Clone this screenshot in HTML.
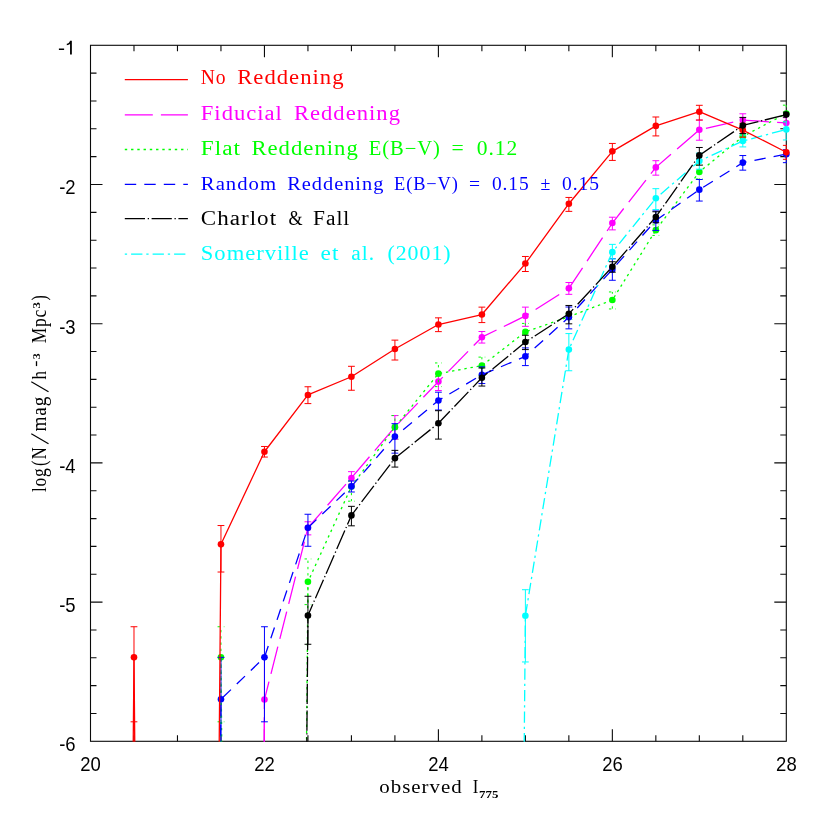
<!DOCTYPE html>
<html><head><meta charset="utf-8"><title>plot</title>
<style>html,body{margin:0;padding:0;background:#fff;}svg{display:block;will-change:transform;}text{font-family:"Liberation Serif",serif;}.w{letter-spacing:0.9px;}.tk{font-family:"Liberation Sans",sans-serif;font-size:20px;fill:#000;}</style></head><body>
<svg width="830" height="830" viewBox="0 0 830 830">
<rect width="830" height="830" fill="#fff"/>
<defs><clipPath id="c"><rect x="90.0" y="44.8" width="696.8" height="697.0"/></clipPath></defs>
<g stroke="#0a0a0a" stroke-width="1.1" fill="none" stroke-linecap="butt">
<rect x="90.50" y="45.30" width="695.80" height="696.00"/>
<path d="M133.99 741.30 V735.30 M133.99 45.30 V51.30 M177.47 741.30 V735.30 M177.47 45.30 V51.30 M220.96 741.30 V735.30 M220.96 45.30 V51.30 M264.45 741.30 V729.30 M264.45 45.30 V57.30 M307.94 741.30 V735.30 M307.94 45.30 V51.30 M351.42 741.30 V735.30 M351.42 45.30 V51.30 M394.91 741.30 V735.30 M394.91 45.30 V51.30 M438.40 741.30 V729.30 M438.40 45.30 V57.30 M481.89 741.30 V735.30 M481.89 45.30 V51.30 M525.38 741.30 V735.30 M525.38 45.30 V51.30 M568.86 741.30 V735.30 M568.86 45.30 V51.30 M612.35 741.30 V729.30 M612.35 45.30 V57.30 M655.84 741.30 V735.30 M655.84 45.30 V51.30 M699.32 741.30 V735.30 M699.32 45.30 V51.30 M742.81 741.30 V735.30 M742.81 45.30 V51.30 M90.50 73.14 H96.50 M786.30 73.14 H780.30 M90.50 100.98 H96.50 M786.30 100.98 H780.30 M90.50 128.82 H96.50 M786.30 128.82 H780.30 M90.50 156.66 H96.50 M786.30 156.66 H780.30 M90.50 184.50 H102.50 M786.30 184.50 H774.30 M90.50 212.34 H96.50 M786.30 212.34 H780.30 M90.50 240.18 H96.50 M786.30 240.18 H780.30 M90.50 268.02 H96.50 M786.30 268.02 H780.30 M90.50 295.86 H96.50 M786.30 295.86 H780.30 M90.50 323.70 H102.50 M786.30 323.70 H774.30 M90.50 351.54 H96.50 M786.30 351.54 H780.30 M90.50 379.38 H96.50 M786.30 379.38 H780.30 M90.50 407.22 H96.50 M786.30 407.22 H780.30 M90.50 435.06 H96.50 M786.30 435.06 H780.30 M90.50 462.90 H102.50 M786.30 462.90 H774.30 M90.50 490.74 H96.50 M786.30 490.74 H780.30 M90.50 518.58 H96.50 M786.30 518.58 H780.30 M90.50 546.42 H96.50 M786.30 546.42 H780.30 M90.50 574.26 H96.50 M786.30 574.26 H780.30 M90.50 602.10 H102.50 M786.30 602.10 H774.30 M90.50 629.94 H96.50 M786.30 629.94 H780.30 M90.50 657.78 H96.50 M786.30 657.78 H780.30 M90.50 685.62 H96.50 M786.30 685.62 H780.30 M90.50 713.46 H96.50 M786.30 713.46 H780.30"/>
</g>
<g fill="none" stroke-linecap="butt" stroke-linejoin="round">
<g clip-path="url(#c)">
<path d="M220.96 5474.10 L264.45 699.54 L307.94 527.77 L351.42 477.93 L394.91 426.99 L438.40 381.61 L481.89 337.20 L525.38 315.90 L568.86 288.34 L612.35 223.06 L655.84 167.38 L699.32 129.79 L742.81 120.05 L786.30 122.97" stroke="#ff00ff" stroke-width="1.30" stroke-dasharray="28 8.1"/>
<path d="M264.45 699.54 V657.36 M264.45 699.54 V880.50 M261.05 657.36 H267.85 M261.05 880.50 H267.85" stroke="#ff00ff" stroke-width="1.00"/>
<path d="M307.94 527.77 V521.78 M307.94 527.77 V534.87 M304.54 521.78 H311.34 M304.54 534.87 H311.34" stroke="#ff00ff" stroke-width="1.00"/>
<path d="M351.42 477.93 V471.67 M351.42 477.93 V484.20 M348.02 471.67 H354.82 M348.02 484.20 H354.82" stroke="#ff00ff" stroke-width="1.00"/>
<path d="M394.91 426.99 V415.57 M394.91 426.99 V439.24 M391.51 415.57 H398.31 M391.51 439.24 H398.31" stroke="#ff00ff" stroke-width="1.00"/>
<path d="M438.40 381.61 V373.81 M438.40 381.61 V390.52 M435.00 373.81 H441.80 M435.00 390.52 H441.80" stroke="#ff00ff" stroke-width="1.00"/>
<path d="M481.89 337.20 V331.50 M481.89 337.20 V343.05 M478.49 331.50 H485.29 M478.49 343.05 H485.29" stroke="#ff00ff" stroke-width="1.00"/>
<path d="M525.38 315.90 V307.14 M525.38 315.90 V326.34 M521.98 307.14 H528.77 M521.98 326.34 H528.77" stroke="#ff00ff" stroke-width="1.00"/>
<path d="M568.86 288.34 V282.50 M568.86 288.34 V294.33 M565.46 282.50 H572.26 M565.46 294.33 H572.26" stroke="#ff00ff" stroke-width="1.00"/>
<path d="M612.35 223.06 V217.21 M612.35 223.06 V229.88 M608.95 217.21 H615.75 M608.95 229.88 H615.75" stroke="#ff00ff" stroke-width="1.00"/>
<path d="M655.84 167.38 V160.70 M655.84 167.38 V175.17 M652.44 160.70 H659.24 M652.44 175.17 H659.24" stroke="#ff00ff" stroke-width="1.00"/>
<path d="M699.32 129.79 V120.05 M699.32 129.79 V140.23 M695.92 120.05 H702.72 M695.92 140.23 H702.72" stroke="#ff00ff" stroke-width="1.00"/>
<path d="M742.81 120.05 V113.79 M742.81 120.05 V126.73 M739.41 113.79 H746.21 M739.41 126.73 H746.21" stroke="#ff00ff" stroke-width="1.00"/>
<path d="M786.30 122.97 V117.68 M786.30 122.97 V128.82 M782.90 117.68 H789.70 M782.90 128.82 H789.70" stroke="#ff00ff" stroke-width="1.00"/>
</g>
<circle cx="264.45" cy="699.54" r="3.30" fill="#ff00ff" stroke="none"/>
<circle cx="307.94" cy="527.77" r="3.30" fill="#ff00ff" stroke="none"/>
<circle cx="351.42" cy="477.93" r="3.30" fill="#ff00ff" stroke="none"/>
<circle cx="394.91" cy="426.99" r="3.30" fill="#ff00ff" stroke="none"/>
<circle cx="438.40" cy="381.61" r="3.30" fill="#ff00ff" stroke="none"/>
<circle cx="481.89" cy="337.20" r="3.30" fill="#ff00ff" stroke="none"/>
<circle cx="525.38" cy="315.90" r="3.30" fill="#ff00ff" stroke="none"/>
<circle cx="568.86" cy="288.34" r="3.30" fill="#ff00ff" stroke="none"/>
<circle cx="612.35" cy="223.06" r="3.30" fill="#ff00ff" stroke="none"/>
<circle cx="655.84" cy="167.38" r="3.30" fill="#ff00ff" stroke="none"/>
<circle cx="699.32" cy="129.79" r="3.30" fill="#ff00ff" stroke="none"/>
<circle cx="742.81" cy="120.05" r="3.30" fill="#ff00ff" stroke="none"/>
<circle cx="786.30" cy="122.97" r="3.30" fill="#ff00ff" stroke="none"/>
<g clip-path="url(#c)">
<path d="M177.47 5474.10 L220.96 657.36 L264.45 5474.10 L307.94 581.78 L351.42 486.56 L394.91 427.13 L438.40 373.67 L481.89 365.60 L525.38 331.91 L568.86 316.74 L612.35 300.04 L655.84 230.16 L699.32 171.97 L742.81 136.48 L786.30 113.51" stroke="#00ff00" stroke-width="1.30" stroke-dasharray="2.4 3.85"/>
<path d="M220.96 657.36 V626.74 M220.96 657.36 V721.81 M217.56 626.74 H224.36 M217.56 721.81 H224.36" stroke="#00ff00" stroke-width="1.00" stroke-dasharray="2.4 3.85"/>
<path d="M307.94 581.78 V558.95 M307.94 581.78 V604.61 M304.54 558.95 H311.34 M304.54 604.61 H311.34" stroke="#00ff00" stroke-width="1.00" stroke-dasharray="2.4 3.85"/>
<path d="M351.42 486.56 V481.00 M351.42 486.56 V501.18 M348.02 481.00 H354.82 M348.02 501.18 H354.82" stroke="#00ff00" stroke-width="1.00" stroke-dasharray="2.4 3.85"/>
<path d="M394.91 427.13 V415.57 M394.91 427.13 V439.24 M391.51 415.57 H398.31 M391.51 439.24 H398.31" stroke="#00ff00" stroke-width="1.00" stroke-dasharray="2.4 3.85"/>
<path d="M438.40 373.67 V362.95 M438.40 373.67 V386.62 M435.00 362.95 H441.80 M435.00 386.62 H441.80" stroke="#00ff00" stroke-width="1.00" stroke-dasharray="2.4 3.85"/>
<path d="M481.89 365.60 V357.11 M481.89 365.60 V375.20 M478.49 357.11 H485.29 M478.49 375.20 H485.29" stroke="#00ff00" stroke-width="1.00" stroke-dasharray="2.4 3.85"/>
<path d="M525.38 331.91 V323.42 M525.38 331.91 V341.80 M521.98 323.42 H528.77 M521.98 341.80 H528.77" stroke="#00ff00" stroke-width="1.00" stroke-dasharray="2.4 3.85"/>
<path d="M568.86 316.74 V313.96 M568.86 316.74 V319.52 M565.46 313.96 H572.26 M565.46 319.52 H572.26" stroke="#00ff00" stroke-width="1.00" stroke-dasharray="2.4 3.85"/>
<path d="M612.35 300.04 V291.96 M612.35 300.04 V308.94 M608.95 291.96 H615.75 M608.95 308.94 H615.75" stroke="#00ff00" stroke-width="1.00" stroke-dasharray="2.4 3.85"/>
<path d="M655.84 230.16 V224.87 M655.84 230.16 V235.45 M652.44 224.87 H659.24 M652.44 235.45 H659.24" stroke="#00ff00" stroke-width="1.00" stroke-dasharray="2.4 3.85"/>
<path d="M699.32 171.97 V165.01 M699.32 171.97 V178.93 M695.92 165.01 H702.72 M695.92 178.93 H702.72" stroke="#00ff00" stroke-width="1.00" stroke-dasharray="2.4 3.85"/>
<path d="M742.81 136.48 V130.91 M742.81 136.48 V142.04 M739.41 130.91 H746.21 M739.41 142.04 H746.21" stroke="#00ff00" stroke-width="1.00" stroke-dasharray="2.4 3.85"/>
<path d="M786.30 113.51 V105.16 M786.30 113.51 V121.86 M782.90 105.16 H789.70 M782.90 121.86 H789.70" stroke="#00ff00" stroke-width="1.00" stroke-dasharray="2.4 3.85"/>
</g>
<circle cx="220.96" cy="657.36" r="3.30" fill="#00ff00" stroke="none"/>
<circle cx="307.94" cy="581.78" r="3.30" fill="#00ff00" stroke="none"/>
<circle cx="351.42" cy="486.56" r="3.30" fill="#00ff00" stroke="none"/>
<circle cx="394.91" cy="427.13" r="3.30" fill="#00ff00" stroke="none"/>
<circle cx="438.40" cy="373.67" r="3.30" fill="#00ff00" stroke="none"/>
<circle cx="481.89" cy="365.60" r="3.30" fill="#00ff00" stroke="none"/>
<circle cx="525.38" cy="331.91" r="3.30" fill="#00ff00" stroke="none"/>
<circle cx="568.86" cy="316.74" r="3.30" fill="#00ff00" stroke="none"/>
<circle cx="612.35" cy="300.04" r="3.30" fill="#00ff00" stroke="none"/>
<circle cx="655.84" cy="230.16" r="3.30" fill="#00ff00" stroke="none"/>
<circle cx="699.32" cy="171.97" r="3.30" fill="#00ff00" stroke="none"/>
<circle cx="742.81" cy="136.48" r="3.30" fill="#00ff00" stroke="none"/>
<circle cx="786.30" cy="113.51" r="3.30" fill="#00ff00" stroke="none"/>
<g clip-path="url(#c)">
<path d="M177.47 5474.10 L220.96 699.26 L264.45 657.36 L307.94 527.77 L351.42 486.42 L394.91 436.59 L438.40 400.54 L481.89 374.79 L525.38 356.41 L568.86 317.16 L612.35 269.41 L655.84 220.41 L699.32 189.65 L742.81 162.65 L786.30 154.15" stroke="#0000ff" stroke-width="1.30" stroke-dasharray="11.4 8.1"/>
<path d="M220.96 699.26 V657.36 M220.96 699.26 V880.50 M217.56 657.36 H224.36 M217.56 880.50 H224.36" stroke="#0000ff" stroke-width="1.00"/>
<path d="M264.45 657.36 V626.74 M264.45 657.36 V721.81 M261.05 626.74 H267.85 M261.05 721.81 H267.85" stroke="#0000ff" stroke-width="1.00"/>
<path d="M307.94 527.77 V514.26 M307.94 527.77 V546.28 M304.54 514.26 H311.34 M304.54 546.28 H311.34" stroke="#0000ff" stroke-width="1.00"/>
<path d="M351.42 486.42 V481.00 M351.42 486.42 V491.99 M348.02 481.00 H354.82 M348.02 491.99 H354.82" stroke="#0000ff" stroke-width="1.00"/>
<path d="M394.91 436.59 V423.65 M394.91 436.59 V453.16 M391.51 423.65 H398.31 M391.51 453.16 H398.31" stroke="#0000ff" stroke-width="1.00"/>
<path d="M438.40 400.54 V392.19 M438.40 400.54 V410.00 M435.00 392.19 H441.80 M435.00 410.00 H441.80" stroke="#0000ff" stroke-width="1.00"/>
<path d="M481.89 374.79 V366.85 M481.89 374.79 V383.56 M478.49 366.85 H485.29 M478.49 383.56 H485.29" stroke="#0000ff" stroke-width="1.00"/>
<path d="M525.38 356.41 V347.92 M525.38 356.41 V365.60 M521.98 347.92 H528.77 M521.98 365.60 H528.77" stroke="#0000ff" stroke-width="1.00"/>
<path d="M568.86 317.16 V307.00 M568.86 317.16 V328.85 M565.46 307.00 H572.26 M565.46 328.85 H572.26" stroke="#0000ff" stroke-width="1.00"/>
<path d="M612.35 269.41 V258.69 M612.35 269.41 V280.27 M608.95 258.69 H615.75 M608.95 280.27 H615.75" stroke="#0000ff" stroke-width="1.00"/>
<path d="M655.84 220.41 V210.95 M655.84 220.41 V230.44 M652.44 210.95 H659.24 M652.44 230.44 H659.24" stroke="#0000ff" stroke-width="1.00"/>
<path d="M699.32 189.65 V179.49 M699.32 189.65 V201.06 M695.92 179.49 H702.72 M695.92 201.06 H702.72" stroke="#0000ff" stroke-width="1.00"/>
<path d="M742.81 162.65 V155.55 M742.81 162.65 V170.16 M739.41 155.55 H746.21 M739.41 170.16 H746.21" stroke="#0000ff" stroke-width="1.00"/>
<path d="M786.30 154.15 V149.70 M786.30 154.15 V162.65 M782.90 149.70 H789.70 M782.90 162.65 H789.70" stroke="#0000ff" stroke-width="1.00"/>
</g>
<circle cx="220.96" cy="699.26" r="3.30" fill="#0000ff" stroke="none"/>
<circle cx="264.45" cy="657.36" r="3.30" fill="#0000ff" stroke="none"/>
<circle cx="307.94" cy="527.77" r="3.30" fill="#0000ff" stroke="none"/>
<circle cx="351.42" cy="486.42" r="3.30" fill="#0000ff" stroke="none"/>
<circle cx="394.91" cy="436.59" r="3.30" fill="#0000ff" stroke="none"/>
<circle cx="438.40" cy="400.54" r="3.30" fill="#0000ff" stroke="none"/>
<circle cx="481.89" cy="374.79" r="3.30" fill="#0000ff" stroke="none"/>
<circle cx="525.38" cy="356.41" r="3.30" fill="#0000ff" stroke="none"/>
<circle cx="568.86" cy="317.16" r="3.30" fill="#0000ff" stroke="none"/>
<circle cx="612.35" cy="269.41" r="3.30" fill="#0000ff" stroke="none"/>
<circle cx="655.84" cy="220.41" r="3.30" fill="#0000ff" stroke="none"/>
<circle cx="699.32" cy="189.65" r="3.30" fill="#0000ff" stroke="none"/>
<circle cx="742.81" cy="162.65" r="3.30" fill="#0000ff" stroke="none"/>
<circle cx="786.30" cy="154.15" r="3.30" fill="#0000ff" stroke="none"/>
<g clip-path="url(#c)">
<path d="M481.89 5474.10 L525.38 615.74 L568.86 349.59 L612.35 252.15 L655.84 198.28 L699.32 160.98 L742.81 141.07 L786.30 129.38" stroke="#00ffff" stroke-width="1.30" stroke-dasharray="11.3 3.9 2.3 4"/>
<path d="M525.38 615.74 V589.71 M525.38 615.74 V661.96 M521.98 589.71 H528.77 M521.98 661.96 H528.77" stroke="#00ffff" stroke-width="1.00"/>
<path d="M568.86 349.59 V333.58 M568.86 349.59 V370.75 M565.46 333.58 H572.26 M565.46 370.75 H572.26" stroke="#00ffff" stroke-width="1.00"/>
<path d="M612.35 252.15 V244.36 M612.35 252.15 V258.97 M608.95 244.36 H615.75 M608.95 258.97 H615.75" stroke="#00ffff" stroke-width="1.00"/>
<path d="M655.84 198.28 V188.68 M655.84 198.28 V209.56 M652.44 188.68 H659.24 M652.44 209.56 H659.24" stroke="#00ffff" stroke-width="1.00"/>
<path d="M699.32 160.98 V153.18 M699.32 160.98 V169.19 M695.92 153.18 H702.72 M695.92 169.19 H702.72" stroke="#00ffff" stroke-width="1.00"/>
<path d="M742.81 141.07 V135.08 M742.81 141.07 V146.92 M739.41 135.08 H746.21 M739.41 146.92 H746.21" stroke="#00ffff" stroke-width="1.00"/>
<path d="M786.30 129.38 V121.86 M786.30 129.38 V139.96 M782.90 121.86 H789.70 M782.90 139.96 H789.70" stroke="#00ffff" stroke-width="1.00"/>
</g>
<circle cx="525.38" cy="615.74" r="3.30" fill="#00ffff" stroke="none"/>
<circle cx="568.86" cy="349.59" r="3.30" fill="#00ffff" stroke="none"/>
<circle cx="612.35" cy="252.15" r="3.30" fill="#00ffff" stroke="none"/>
<circle cx="655.84" cy="198.28" r="3.30" fill="#00ffff" stroke="none"/>
<circle cx="699.32" cy="160.98" r="3.30" fill="#00ffff" stroke="none"/>
<circle cx="742.81" cy="141.07" r="3.30" fill="#00ffff" stroke="none"/>
<circle cx="786.30" cy="129.38" r="3.30" fill="#00ffff" stroke="none"/>
<g clip-path="url(#c)">
<path d="M90.50 5474.10 L133.99 657.36 L177.47 5474.10 L220.96 544.33 L264.45 451.76 L307.94 394.97 L351.42 376.74 L394.91 349.03 L438.40 324.54 L481.89 314.51 L525.38 263.57 L568.86 203.71 L612.35 151.37 L655.84 125.90 L699.32 111.70 L742.81 130.07 L786.30 152.21" stroke="#ff0000" stroke-width="1.30"/>
<path d="M133.99 657.36 V626.74 M133.99 657.36 V721.81 M130.59 626.74 H137.39 M130.59 721.81 H137.39" stroke="#ff0000" stroke-width="1.00"/>
<path d="M220.96 544.33 V525.54 M220.96 544.33 V572.03 M217.56 525.54 H224.36 M217.56 572.03 H224.36" stroke="#ff0000" stroke-width="1.00"/>
<path d="M264.45 451.76 V446.47 M264.45 451.76 V457.05 M261.05 446.47 H267.85 M261.05 457.05 H267.85" stroke="#ff0000" stroke-width="1.00"/>
<path d="M307.94 394.97 V386.76 M307.94 394.97 V403.60 M304.54 386.76 H311.34 M304.54 403.60 H311.34" stroke="#ff0000" stroke-width="1.00"/>
<path d="M351.42 376.74 V366.30 M351.42 376.74 V390.24 M348.02 366.30 H354.82 M348.02 390.24 H354.82" stroke="#ff0000" stroke-width="1.00"/>
<path d="M394.91 349.03 V340.13 M394.91 349.03 V360.03 M391.51 340.13 H398.31 M391.51 360.03 H398.31" stroke="#ff0000" stroke-width="1.00"/>
<path d="M438.40 324.54 V317.85 M438.40 324.54 V331.63 M435.00 317.85 H441.80 M435.00 331.63 H441.80" stroke="#ff0000" stroke-width="1.00"/>
<path d="M481.89 314.51 V307.14 M481.89 314.51 V322.59 M478.49 307.14 H485.29 M478.49 322.59 H485.29" stroke="#ff0000" stroke-width="1.00"/>
<path d="M525.38 263.57 V256.47 M525.38 263.57 V271.50 M521.98 256.47 H528.77 M521.98 271.50 H528.77" stroke="#ff0000" stroke-width="1.00"/>
<path d="M568.86 203.71 V197.45 M568.86 203.71 V211.37 M565.46 197.45 H572.26 M565.46 211.37 H572.26" stroke="#ff0000" stroke-width="1.00"/>
<path d="M612.35 151.37 V143.44 M612.35 151.37 V160.42 M608.95 143.44 H615.75 M608.95 160.42 H615.75" stroke="#ff0000" stroke-width="1.00"/>
<path d="M655.84 125.90 V116.99 M655.84 125.90 V135.92 M652.44 116.99 H659.24 M652.44 135.92 H659.24" stroke="#ff0000" stroke-width="1.00"/>
<path d="M699.32 111.70 V105.30 M699.32 111.70 V120.05 M695.92 105.30 H702.72 M695.92 120.05 H702.72" stroke="#ff0000" stroke-width="1.00"/>
<path d="M742.81 130.07 V123.25 M742.81 130.07 V137.17 M739.41 123.25 H746.21 M739.41 137.17 H746.21" stroke="#ff0000" stroke-width="1.00"/>
<path d="M786.30 152.21 V145.38 M786.30 152.21 V159.30 M782.90 145.38 H789.70 M782.90 159.30 H789.70" stroke="#ff0000" stroke-width="1.00"/>
</g>
<circle cx="133.99" cy="657.36" r="3.30" fill="#ff0000" stroke="none"/>
<circle cx="220.96" cy="544.33" r="3.30" fill="#ff0000" stroke="none"/>
<circle cx="264.45" cy="451.76" r="3.30" fill="#ff0000" stroke="none"/>
<circle cx="307.94" cy="394.97" r="3.30" fill="#ff0000" stroke="none"/>
<circle cx="351.42" cy="376.74" r="3.30" fill="#ff0000" stroke="none"/>
<circle cx="394.91" cy="349.03" r="3.30" fill="#ff0000" stroke="none"/>
<circle cx="438.40" cy="324.54" r="3.30" fill="#ff0000" stroke="none"/>
<circle cx="481.89" cy="314.51" r="3.30" fill="#ff0000" stroke="none"/>
<circle cx="525.38" cy="263.57" r="3.30" fill="#ff0000" stroke="none"/>
<circle cx="568.86" cy="203.71" r="3.30" fill="#ff0000" stroke="none"/>
<circle cx="612.35" cy="151.37" r="3.30" fill="#ff0000" stroke="none"/>
<circle cx="655.84" cy="125.90" r="3.30" fill="#ff0000" stroke="none"/>
<circle cx="699.32" cy="111.70" r="3.30" fill="#ff0000" stroke="none"/>
<circle cx="742.81" cy="130.07" r="3.30" fill="#ff0000" stroke="none"/>
<circle cx="786.30" cy="152.21" r="3.30" fill="#ff0000" stroke="none"/>
<g clip-path="url(#c)">
<path d="M264.45 5474.10 L307.94 615.46 L351.42 515.38 L394.91 458.17 L438.40 423.23 L481.89 377.71 L525.38 342.07 L568.86 313.82 L612.35 266.77 L655.84 216.93 L699.32 155.41 L742.81 125.48 L786.30 114.62" stroke="#000000" stroke-width="1.30" stroke-dasharray="20.2 2.7 1.3 2.6"/>
<path d="M307.94 615.46 V596.25 M307.94 615.46 V644.28 M304.54 596.25 H311.34 M304.54 644.28 H311.34" stroke="#000000" stroke-width="1.00"/>
<path d="M351.42 515.38 V506.33 M351.42 515.38 V525.82 M348.02 506.33 H354.82 M348.02 525.82 H354.82" stroke="#000000" stroke-width="1.00"/>
<path d="M394.91 458.17 V450.37 M394.91 458.17 V467.08 M391.51 450.37 H398.31 M391.51 467.08 H398.31" stroke="#000000" stroke-width="1.00"/>
<path d="M438.40 423.23 V410.70 M438.40 423.23 V439.10 M435.00 410.70 H441.80 M435.00 439.10 H441.80" stroke="#000000" stroke-width="1.00"/>
<path d="M481.89 377.71 V367.97 M481.89 377.71 V386.06 M478.49 367.97 H485.29 M478.49 386.06 H485.29" stroke="#000000" stroke-width="1.00"/>
<path d="M525.38 342.07 V335.25 M525.38 342.07 V349.59 M521.98 335.25 H528.77 M521.98 349.59 H528.77" stroke="#000000" stroke-width="1.00"/>
<path d="M568.86 313.82 V305.46 M568.86 313.82 V323.84 M565.46 305.46 H572.26 M565.46 323.84 H572.26" stroke="#000000" stroke-width="1.00"/>
<path d="M612.35 266.77 V261.76 M612.35 266.77 V272.20 M608.95 261.76 H615.75 M608.95 272.20 H615.75" stroke="#000000" stroke-width="1.00"/>
<path d="M655.84 216.93 V211.78 M655.84 216.93 V222.78 M652.44 211.78 H659.24 M652.44 222.78 H659.24" stroke="#000000" stroke-width="1.00"/>
<path d="M699.32 155.41 V147.47 M699.32 155.41 V165.15 M695.92 147.47 H702.72 M695.92 165.15 H702.72" stroke="#000000" stroke-width="1.00"/>
<path d="M742.81 125.48 V117.41 M742.81 125.48 V133.55 M739.41 117.41 H746.21 M739.41 133.55 H746.21" stroke="#000000" stroke-width="1.00"/>
<path d="M786.30 114.62 V112.12 M786.30 114.62 V117.13 M782.90 112.12 H789.70 M782.90 117.13 H789.70" stroke="#000000" stroke-width="1.00"/>
</g>
<circle cx="307.94" cy="615.46" r="3.30" fill="#000000" stroke="none"/>
<circle cx="351.42" cy="515.38" r="3.30" fill="#000000" stroke="none"/>
<circle cx="394.91" cy="458.17" r="3.30" fill="#000000" stroke="none"/>
<circle cx="438.40" cy="423.23" r="3.30" fill="#000000" stroke="none"/>
<circle cx="481.89" cy="377.71" r="3.30" fill="#000000" stroke="none"/>
<circle cx="525.38" cy="342.07" r="3.30" fill="#000000" stroke="none"/>
<circle cx="568.86" cy="313.82" r="3.30" fill="#000000" stroke="none"/>
<circle cx="612.35" cy="266.77" r="3.30" fill="#000000" stroke="none"/>
<circle cx="655.84" cy="216.93" r="3.30" fill="#000000" stroke="none"/>
<circle cx="699.32" cy="155.41" r="3.30" fill="#000000" stroke="none"/>
<circle cx="742.81" cy="125.48" r="3.30" fill="#000000" stroke="none"/>
<circle cx="786.30" cy="114.62" r="3.30" fill="#000000" stroke="none"/>
</g>
<text class="tk" transform="translate(90.60 770.6) scale(0.925 1)" text-anchor="middle">20</text>
<text class="tk" transform="translate(264.55 770.6) scale(0.925 1)" text-anchor="middle">22</text>
<text class="tk" transform="translate(438.50 770.6) scale(0.925 1)" text-anchor="middle">24</text>
<text class="tk" transform="translate(612.45 770.6) scale(0.925 1)" text-anchor="middle">26</text>
<text class="tk" transform="translate(786.40 770.6) scale(0.925 1)" text-anchor="middle">28</text>
<text class="tk" transform="translate(75.60 194.30) scale(0.925 1)" text-anchor="end">-2</text>
<text class="tk" transform="translate(75.60 333.50) scale(0.925 1)" text-anchor="end">-3</text>
<text class="tk" transform="translate(75.60 472.70) scale(0.925 1)" text-anchor="end">-4</text>
<text class="tk" transform="translate(75.60 611.90) scale(0.925 1)" text-anchor="end">-5</text>
<text class="tk" transform="translate(75.60 751.10) scale(0.925 1)" text-anchor="end">-6</text>
<path fill="#000" d="M58.9 48.4 H64.1 V50.1 H58.9 Z M70.05 40.8 H71.85 V54.6 H70.05 V44.0 C69.3 44.6 68.2 45.1 66.8 45.3 V43.8 C68.5 43.5 69.7 42.4 70.05 40.8 Z"/>
<g fill="#000">
<text class="w" font-size="19" x="379.3" y="792.5" textLength="83.3" lengthAdjust="spacingAndGlyphs">observed</text>
<text font-size="19" x="472.7" y="792.5" textLength="5.6" lengthAdjust="spacingAndGlyphs">I</text>
<text x="479" y="798" font-size="11" font-weight="bold" textLength="19.4" lengthAdjust="spacingAndGlyphs">775</text>
<g transform="translate(46.3 492.3) rotate(-90)" font-size="20.5">
<text class="w" x="0.2" y="0" textLength="24.6" lengthAdjust="spacingAndGlyphs">log</text>
<text x="26.2" y="0" textLength="5.6" lengthAdjust="spacingAndGlyphs">(</text>
<text x="33.1" y="0" textLength="11.9" lengthAdjust="spacingAndGlyphs">N</text>
<path d="M48.6 2.2 L58.6 -15" stroke="#000" stroke-width="1.2" fill="none"/>
<text class="w" x="60.9" y="0" textLength="35.5" lengthAdjust="spacingAndGlyphs">mag</text>
<path d="M100.6 2.2 L110.6 -15" stroke="#000" stroke-width="1.2" fill="none"/>
<text x="112.9" y="0" textLength="8.5" lengthAdjust="spacingAndGlyphs">h</text>
<path d="M126.2 -9.8 H131.1" stroke="#000" stroke-width="1.3" fill="none"/>
<text x="133.1" y="-6.2" font-size="10.5" font-weight="bold" textLength="5.9" lengthAdjust="spacingAndGlyphs">3</text>
<text class="w" x="149.0" y="0" textLength="34.4" lengthAdjust="spacingAndGlyphs">Mpc</text>
<text x="183.7" y="-6.2" font-size="10.5" font-weight="bold" textLength="6.4" lengthAdjust="spacingAndGlyphs">3</text>
<text x="191.7" y="0" textLength="5.3" lengthAdjust="spacingAndGlyphs">)</text>
</g></g>
<path d="M124.8 79.6 H187.9" stroke="#ff0000" stroke-width="1.30" fill="none"/>
<text class="w" x="200.8" y="84.3" font-size="20" fill="#ff0000" textLength="25.7" lengthAdjust="spacingAndGlyphs">No</text>
<text class="w" x="237.2" y="84.3" font-size="20" fill="#ff0000" textLength="107.4" lengthAdjust="spacingAndGlyphs">Reddening</text>
<path d="M124.8 114.8 H187.9" stroke="#ff00ff" stroke-width="1.30" fill="none" stroke-dasharray="28 8.1"/>
<text class="w" x="200.8" y="119.5" font-size="20" fill="#ff00ff" textLength="82.1" lengthAdjust="spacingAndGlyphs">Fiducial</text>
<text class="w" x="293.9" y="119.5" font-size="20" fill="#ff00ff" textLength="107.1" lengthAdjust="spacingAndGlyphs">Reddening</text>
<path d="M124.8 149.5 H187.9" stroke="#00ff00" stroke-width="1.30" fill="none" stroke-dasharray="2.4 3.85"/>
<text class="w" x="200.8" y="154.9" font-size="20" fill="#00ff00" textLength="40.2" lengthAdjust="spacingAndGlyphs">Flat</text>
<text class="w" x="251.4" y="154.9" font-size="20" fill="#00ff00" textLength="107.4" lengthAdjust="spacingAndGlyphs">Reddening</text>
<text class="w" x="368.8" y="154.9" font-size="20" fill="#00ff00" textLength="72.0" lengthAdjust="spacingAndGlyphs">E(B−V)</text>
<text class="w" x="451.4" y="154.9" font-size="20" fill="#00ff00" textLength="13.2" lengthAdjust="spacingAndGlyphs">=</text>
<text class="w" x="476.7" y="154.9" font-size="20" fill="#00ff00" textLength="41.6" lengthAdjust="spacingAndGlyphs">0.12</text>
<path d="M124.8 184.3 H187.9" stroke="#0000ff" stroke-width="1.30" fill="none" stroke-dasharray="11.4 8.1"/>
<text class="w" x="200.8" y="189.9" font-size="18.5" fill="#0000ff" textLength="76.3" lengthAdjust="spacingAndGlyphs">Random</text>
<text class="w" x="287.2" y="189.9" font-size="18.5" fill="#0000ff" textLength="97.2" lengthAdjust="spacingAndGlyphs">Reddening</text>
<text class="w" x="394.1" y="189.9" font-size="18.5" fill="#0000ff" textLength="64.7" lengthAdjust="spacingAndGlyphs">E(B−V)</text>
<text class="w" x="469.1" y="189.9" font-size="18.5" fill="#0000ff" textLength="12.0" lengthAdjust="spacingAndGlyphs">=</text>
<text class="w" x="491.9" y="189.9" font-size="18.5" fill="#0000ff" textLength="37.8" lengthAdjust="spacingAndGlyphs">0.15</text>
<text class="w" x="540.5" y="189.9" font-size="18.5" fill="#0000ff" textLength="10.7" lengthAdjust="spacingAndGlyphs">±</text>
<text class="w" x="562.0" y="189.9" font-size="18.5" fill="#0000ff" textLength="38.0" lengthAdjust="spacingAndGlyphs">0.15</text>
<path d="M124.8 218.7 H187.9" stroke="#000000" stroke-width="1.30" fill="none" stroke-dasharray="20.2 2.7 1.3 2.6"/>
<text class="w" x="200.8" y="225.2" font-size="20" fill="#000000" textLength="76.3" lengthAdjust="spacingAndGlyphs">Charlot</text>
<text class="w" x="288.5" y="225.2" font-size="20" fill="#000000" textLength="14.9" lengthAdjust="spacingAndGlyphs">&amp;</text>
<text class="w" x="313.1" y="225.2" font-size="20" fill="#000000" textLength="37.2" lengthAdjust="spacingAndGlyphs">Fall</text>
<path d="M124.8 254.2 H187.9" stroke="#00ffff" stroke-width="1.30" fill="none" stroke-dasharray="2.3 4 11.3 3.9"/>
<text class="w" x="200.8" y="260.3" font-size="20" fill="#00ffff" textLength="109.1" lengthAdjust="spacingAndGlyphs">Somerville</text>
<text class="w" x="320.6" y="260.3" font-size="20" fill="#00ffff" textLength="18.9" lengthAdjust="spacingAndGlyphs">et</text>
<text class="w" x="351.3" y="260.3" font-size="20" fill="#00ffff" textLength="23.7" lengthAdjust="spacingAndGlyphs">al.</text>
<text class="w" x="387.4" y="260.3" font-size="20" fill="#00ffff" textLength="64.2" lengthAdjust="spacingAndGlyphs">(2001)</text>
</svg></body></html>
